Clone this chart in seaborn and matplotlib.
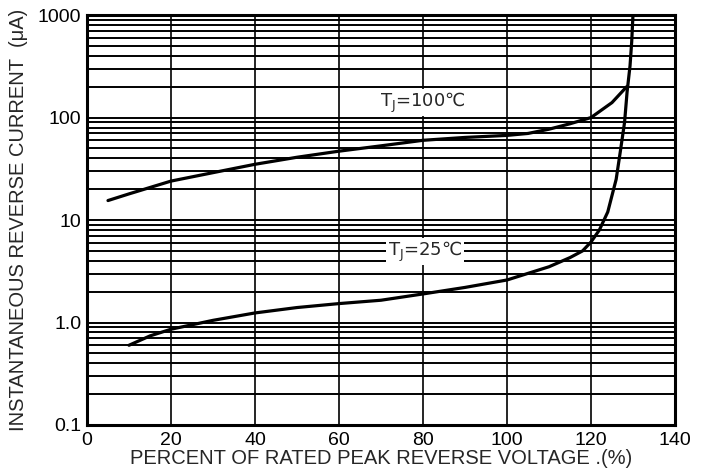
import numpy as np
import matplotlib
matplotlib.use("Agg")
import matplotlib.pyplot as plt
from matplotlib.ticker import LogLocator, FixedLocator, NullFormatter, FixedFormatter
import seaborn as sns

# values
x_100 = [5, 10, 20, 30, 40, 50, 60, 70, 80, 90, 100, 105, 110, 115, 120, 125, 128.5]
y_100 = [15.5, 18, 24, 29, 35, 41, 47, 53, 60, 64, 67, 70, 77, 87, 100, 140, 200]

x_25 = [10, 15, 20, 30, 40, 50, 60, 70, 80, 90, 100, 110, 115, 118, 120, 122,
        124, 126, 127, 128, 128.6, 129.3, 129.7, 130]
y_25 = [0.6, 0.74, 0.86, 1.05, 1.24, 1.4, 1.53, 1.65, 1.9, 2.2, 2.6, 3.5, 4.3, 5.0,
        6.1, 8, 12, 25, 47, 90, 178, 320, 550, 1000]

x_ticks = [0, 20, 40, 60, 80, 100, 120, 140]
y_ticks = [0.1, 1, 10, 100, 1000]
y_tick_labels = ["0.1", "1.0", "10", "100", "1000"]

sns.set_style("white")
plt.rcParams['font.family'] = ['Liberation Sans', 'DejaVu Sans']
plt.rcParams['mathtext.default'] = 'regular'

fig = plt.figure(figsize=(7.05, 4.72), dpi=100)
ax = fig.add_axes([0.1234, 0.0996, 0.834, 0.8684])

sns.lineplot(x=x_100, y=y_100, color="black", lw=2.3, ax=ax, zorder=3)
sns.lineplot(x=x_25, y=y_25, color="black", lw=2.3, ax=ax, zorder=3)

ax.set_yscale("log")
ax.set_xlim(0, 140)
ax.set_ylim(0.1, 1000)

ax.xaxis.set_major_locator(FixedLocator(x_ticks))
ax.yaxis.set_major_locator(FixedLocator(y_ticks))
ax.yaxis.set_major_formatter(FixedFormatter(y_tick_labels))
ax.yaxis.set_minor_locator(LogLocator(base=10, subs=np.arange(2, 10)))
ax.yaxis.set_minor_formatter(NullFormatter())

ax.grid(which="major", axis="x", color="black", lw=1.2)
ax.grid(which="both", axis="y", color="black", lw=1.4)
ax.set_axisbelow(True)

for s in ax.spines.values():
    s.set_color("black")
    s.set_linewidth(2.2)
    s.set_zorder(4)

ax.tick_params(which="both", length=0, labelsize=14, colors="black")
ax.tick_params(axis="x", pad=5)
ax.tick_params(axis="y", pad=4)

ax.set_xlabel("PERCENT OF RATED PEAK REVERSE VOLTAGE .(%)", fontsize=14.5, labelpad=0)
ax.set_ylabel("INSTANTANEOUS REVERSE CURRENT  (μA)", fontsize=14.5, labelpad=7)

box = dict(facecolor="white", edgecolor="none", pad=1)
ax.text(80, 140, "T$_J$=100℃", fontsize=13, family="DejaVu Sans",
        ha="center", va="center", bbox=box, zorder=2.5)
ax.text(80.5, 4.9, "T$_J$=25℃", fontsize=13, family="DejaVu Sans",
        ha="center", va="center", bbox=box, zorder=2.5)

fig.savefig("out.png", dpi=100)
